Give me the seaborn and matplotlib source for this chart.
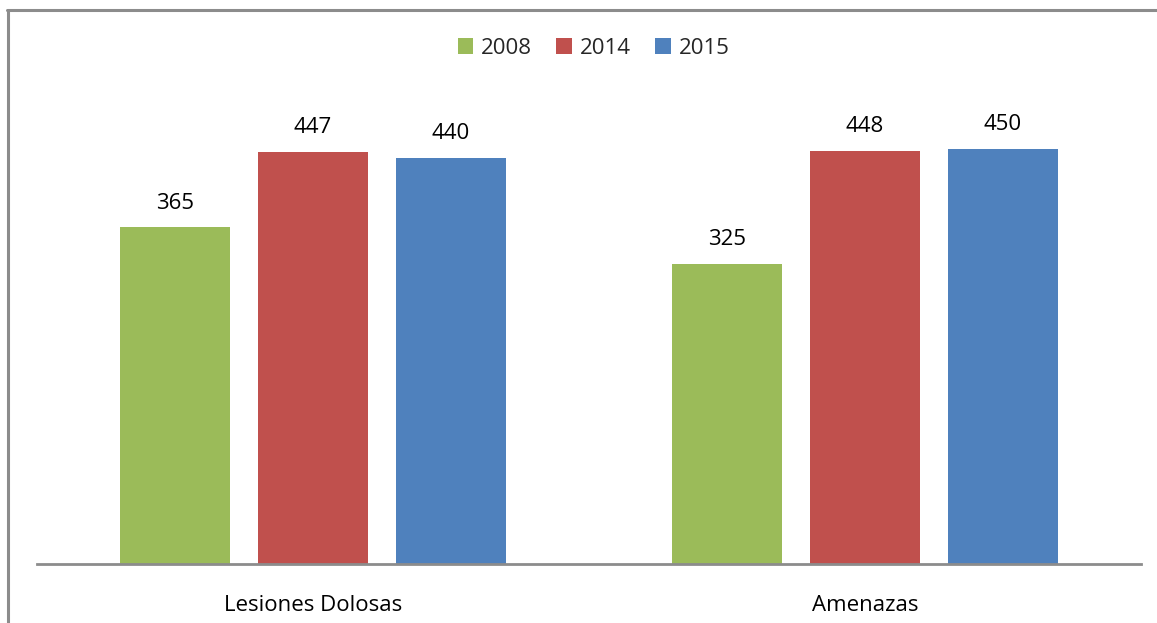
import matplotlib
matplotlib.use("Agg")
import matplotlib.pyplot as plt
import seaborn as sns
import pandas as pd
from matplotlib.lines import Line2D

categories = ["Lesiones Dolosas", "Amenazas"]
years = ["2008", "2014", "2015"]
values_2008 = [365, 325]
values_2014 = [447, 448]
values_2015 = [440, 450]
colors = ["#9BBB59", "#C0504D", "#4F81BD"]

rows = []
for yr, vals in zip(years, [values_2008, values_2014, values_2015]):
    for c, v in zip(categories, vals):
        rows.append({"cat": c, "year": yr, "value": v})
df = pd.DataFrame(rows)

sns.set_style("white")
plt.rcParams["font.family"] = ["Open Sans", "DejaVu Sans"]

fig = plt.figure(figsize=(11.57, 6.23), dpi=100)
ax = fig.add_axes([37/1157, (623-564)/623, (1141-37)/1157, (564-103)/623])

sns.barplot(data=df, x="cat", y="value", hue="year", order=categories,
            hue_order=years, palette=colors, width=0.75, gap=0.2,
            saturation=1, ax=ax, legend=True, linewidth=0, edgecolor="none")

ax.set_ylim(0, 500)
ax.set_xlim(-0.5, 1.5)
for cont in ax.containers:
    ax.bar_label(cont, padding=10, fontsize=16, color="#000000")

ax.set_xlabel("")
ax.set_ylabel("")
ax.set_yticks([])
ax.tick_params(axis="x", length=0, labelsize=16, pad=22, colors="#000000")
for s in ["top", "right", "left"]:
    ax.spines[s].set_visible(False)
ax.spines["bottom"].set_color("#8C8C8C")
ax.spines["bottom"].set_linewidth(2)

handles, labels = ax.get_legend_handles_labels()
ax.legend(handles, labels, ncol=3, loc="center", bbox_to_anchor=(0.513, 1 - 48/623),
          bbox_transform=fig.transFigure, frameon=False, fontsize=16,
          handlelength=0.7, handleheight=0.7, handletextpad=0.35, columnspacing=1.1)

fig.add_artist(Line2D([7.5/1157, 7.5/1157], [0, 1 - 10/623], color="#8C8C8C", lw=2.2,
                      transform=fig.transFigure))
fig.add_artist(Line2D([6.5/1157, 1], [1 - 10/623, 1 - 10/623], color="#8C8C8C", lw=2.2,
                      transform=fig.transFigure))

fig.savefig("out.png", dpi=100)
